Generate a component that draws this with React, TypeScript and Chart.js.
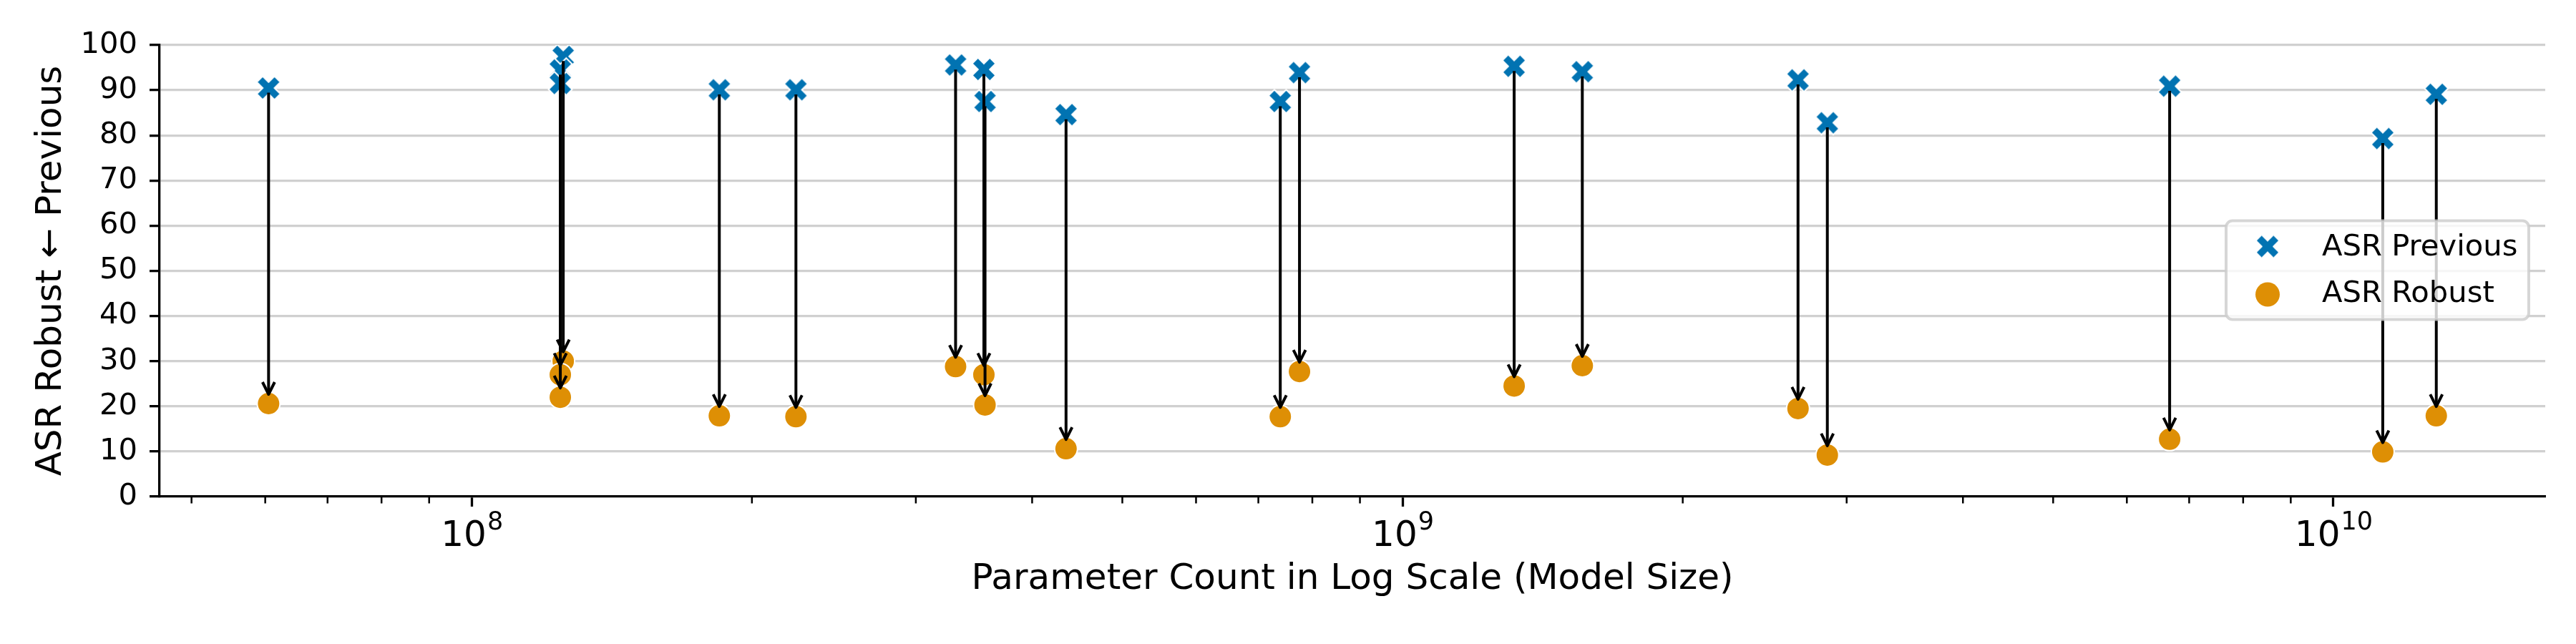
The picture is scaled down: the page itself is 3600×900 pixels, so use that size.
import React, { useEffect, useRef } from 'react';
import { Chart, registerables } from 'chart.js';

Chart.register(...registerables);

// parameter count of each model
const paramCounts = [
  6.05e7, 1.254e8, 1.245e8, 1.245e8, 1.845e8, 2.23e8, 3.31e8, 3.55e8, 3.56e8, 4.35e8,
  7.39e8, 7.75e8, 1.318e9, 1.56e9, 2.66e9, 2.86e9, 6.67e9, 1.13e10, 1.29e10,
];
const asrPrevious = [
  90.5, 97.5, 94.5, 91.5, 90.1, 90.1, 95.6, 94.6, 87.5, 84.6,
  87.5, 93.9, 95.3, 94.1, 92.3, 82.8, 90.9, 79.3, 89.1,
];
const asrRobust = [
  20.6, 30.0, 27.0, 22.0, 17.9, 17.7, 28.8, 27.0, 20.3, 10.6,
  17.7, 27.7, 24.5, 29.0, 19.5, 9.2, 12.7, 9.9, 17.9,
];

const xMajorTicks = [1e8, 1e9, 1e10];
const xTickBase = '10';
const xTickExponents = ['8', '9', '10'];
const xMinorMultipliers = [2, 3, 4, 5, 6, 7, 8, 9];
const xDecades = [1e7, 1e8, 1e9, 1e10];
const yTicks = [0, 10, 20, 30, 40, 50, 60, 70, 80, 90, 100];

const X_MIN = 4.62e7;
const X_MAX = 1.689e10;

const BLUE = '#0173B2';
const ORANGE = '#DE8F05';
const GRID = '#d0d0d0';
const FONT = "'DejaVu Sans', sans-serif";

// filled "X" marker, same shape as matplotlib's 'X'
function makeXMarker(size: number): HTMLCanvasElement {
  const c = document.createElement('canvas');
  c.width = 42;
  c.height = 42;
  const ctx = c.getContext('2d')!;
  const base = [
    [-1, -3], [1, -3], [1, -1], [3, -1], [3, 1], [1, 1],
    [1, 3], [-1, 3], [-1, 1], [-3, 1], [-3, -1], [-1, -1],
  ];
  const a = Math.PI / 4;
  ctx.beginPath();
  base.forEach(([px, py], i) => {
    const x = (px / 6) * size;
    const y = (py / 6) * size;
    const rx = 21 + x * Math.cos(a) - y * Math.sin(a);
    const ry = 21 + x * Math.sin(a) + y * Math.cos(a);
    if (i === 0) ctx.moveTo(rx, ry);
    else ctx.lineTo(rx, ry);
  });
  ctx.closePath();
  ctx.fillStyle = BLUE;
  ctx.fill();
  ctx.strokeStyle = '#ffffff';
  ctx.lineWidth = 2;
  ctx.stroke();
  return c;
}

const App: React.FC = () => {
  const chartRef = useRef<HTMLCanvasElement>(null);
  const chartInstance = useRef<Chart | null>(null);

  useEffect(() => {
    if (!chartRef.current) return;
    if (chartInstance.current) chartInstance.current.destroy();

    const xMarker = makeXMarker(35);

    // arrows from previous to robust ASR
    const arrowPlugin = {
      id: 'asrArrows',
      afterDatasetsDraw(chart: any) {
        const { ctx, scales } = chart;
        ctx.save();
        ctx.strokeStyle = '#000';
        ctx.lineWidth = 4;
        ctx.lineJoin = 'round';
        ctx.lineCap = 'butt';
        paramCounts.forEach((p, i) => {
          const x = scales.x.getPixelForValue(p);
          const y1 = scales.y.getPixelForValue(asrPrevious[i]) + 6.5;
          const y2 = scales.y.getPixelForValue(asrRobust[i]) - 13;
          ctx.beginPath();
          ctx.moveTo(x, y1);
          ctx.lineTo(x, y2);
          ctx.stroke();
          ctx.beginPath();
          ctx.moveTo(x - 8.5, y2 - 17);
          ctx.lineTo(x, y2);
          ctx.lineTo(x + 8.5, y2 - 17);
          ctx.stroke();
        });
        ctx.restore();
      },
    };

    // minor log ticks and 10^n labels with a real superscript
    const xAxisPlugin = {
      id: 'xAxisExtras',
      afterDraw(chart: any) {
        const { ctx, scales, chartArea } = chart;
        ctx.save();
        ctx.strokeStyle = '#000';
        ctx.lineWidth = 2.5;
        xDecades.forEach((d) => {
          xMinorMultipliers.forEach((m) => {
            const v = d * m;
            if (v < X_MIN || v > X_MAX) return;
            const x = scales.x.getPixelForValue(v);
            ctx.beginPath();
            ctx.moveTo(x, chartArea.bottom);
            ctx.lineTo(x, chartArea.bottom + 9.5);
            ctx.stroke();
          });
        });

        ctx.fillStyle = '#000';
        ctx.textBaseline = 'alphabetic';
        ctx.textAlign = 'left';
        const baseY = chartArea.bottom + 69;
        xMajorTicks.forEach((v, i) => {
          const x = scales.x.getPixelForValue(v);
          ctx.font = `50px ${FONT}`;
          const wBase = ctx.measureText(xTickBase).width;
          ctx.font = `35px ${FONT}`;
          const wExp = ctx.measureText(xTickExponents[i]).width;
          const start = x - (wBase + wExp) / 2;
          ctx.font = `50px ${FONT}`;
          ctx.fillText(xTickBase, start, baseY);
          ctx.font = `35px ${FONT}`;
          ctx.fillText(xTickExponents[i], start + wBase + 1, baseY - 23);
        });
        ctx.restore();
      },
    };

    const legendPlugin = {
      id: 'boxLegend',
      afterDraw(chart: any) {
        const { ctx } = chart;
        const left = 3111;
        const top = 308.5;
        const w = 423;
        const h = 138;
        ctx.save();
        ctx.beginPath();
        ctx.roundRect(left, top, w, h, 9);
        ctx.fillStyle = 'rgba(255,255,255,0.8)';
        ctx.fill();
        ctx.strokeStyle = 'rgba(204,204,204,0.8)';
        ctx.lineWidth = 4;
        ctx.stroke();
        const rows = [
          { label: chart.data.datasets[0].label, y: top + 36 },
          { label: chart.data.datasets[1].label, y: top + 101 },
        ];
        ctx.drawImage(xMarker, left + 58 - 21, rows[0].y - 21);
        ctx.beginPath();
        ctx.arc(left + 58, rows[1].y + 2, 17, 0, Math.PI * 2);
        ctx.fillStyle = ORANGE;
        ctx.fill();
        ctx.fillStyle = '#000';
        ctx.font = `41.7px ${FONT}`;
        ctx.textBaseline = 'middle';
        ctx.textAlign = 'left';
        rows.forEach((r) => ctx.fillText(r.label, left + 134, r.y + 2));
        ctx.restore();
      },
    };

    chartInstance.current = new Chart(chartRef.current, {
      type: 'scatter',
      data: {
        datasets: [
          {
            label: 'ASR Previous',
            data: paramCounts.map((p, i) => ({ x: p, y: asrPrevious[i] })),
            pointStyle: xMarker as any,
            pointRadius: 18,
            pointHoverRadius: 18,
          },
          {
            label: 'ASR Robust',
            data: paramCounts.map((p, i) => ({ x: p, y: asrRobust[i] })),
            pointStyle: 'circle',
            pointRadius: 16,
            pointHoverRadius: 16,
            backgroundColor: ORANGE,
            borderColor: '#ffffff',
            borderWidth: 2,
          },
        ],
      },
      options: {
        animation: false,
        responsive: false,
        devicePixelRatio: 1,
        events: [],
        layout: { padding: { left: 0, right: 43, top: 63, bottom: 0 } },
        plugins: {
          legend: { display: false },
          tooltip: { enabled: false },
        },
        scales: {
          x: {
            type: 'logarithmic',
            min: X_MIN,
            max: X_MAX,
            afterBuildTicks: (s: any) => {
              s.ticks = xMajorTicks.map((v) => ({ value: v, major: true }));
            },
            afterFit: (s: any) => {
              s.height = 206;
            },
            ticks: {
              autoSkip: false,
              maxRotation: 0,
              padding: 8,
              color: '#000',
              font: { family: FONT, size: 50 },
              // labels drawn by xAxisExtras so the exponent can be a superscript
              callback: () => '',
            },
            grid: {
              display: true,
              drawOnChartArea: false,
              tickLength: 14,
              tickColor: '#000',
              tickWidth: 3.3,
            },
            border: { display: true, color: '#000', width: 3.3 },
            title: {
              display: true,
              text: 'Parameter Count in Log Scale (Model Size)',
              color: '#000',
              font: { family: FONT, size: 50 },
              padding: { top: 0, bottom: 60 },
            },
          },
          y: {
            type: 'linear',
            min: 0,
            max: 100,
            afterBuildTicks: (s: any) => {
              s.ticks = yTicks.map((v) => ({ value: v }));
            },
            afterFit: (s: any) => {
              s.width = 223;
            },
            ticks: {
              padding: 17,
              color: '#000',
              font: { family: FONT, size: 41.7 },
            },
            grid: {
              color: (c: any) => (c.tick && c.tick.value === 0 ? 'rgba(0,0,0,0)' : GRID),
              lineWidth: 3.3,
              tickLength: 14,
              tickColor: '#000',
              tickWidth: 3.3,
            },
            border: { display: true, color: '#000', width: 3.3 },
            title: {
              display: true,
              text: 'ASR Robust ← Previous',
              color: '#000',
              font: { family: FONT, size: 50 },
              padding: { top: 42, bottom: 0 },
            },
          },
        },
      },
      plugins: [arrowPlugin, xAxisPlugin, legendPlugin],
    });

    return () => {
      if (chartInstance.current) {
        chartInstance.current.destroy();
        chartInstance.current = null;
      }
    };
  }, []);

  return (
    <div style={{ position: 'fixed', left: 0, top: 0, width: 3600, height: 900, background: '#fff' }}>
      <canvas ref={chartRef} width={3600} height={900} style={{ display: 'block' }}></canvas>
    </div>
  );
};

export default App;
